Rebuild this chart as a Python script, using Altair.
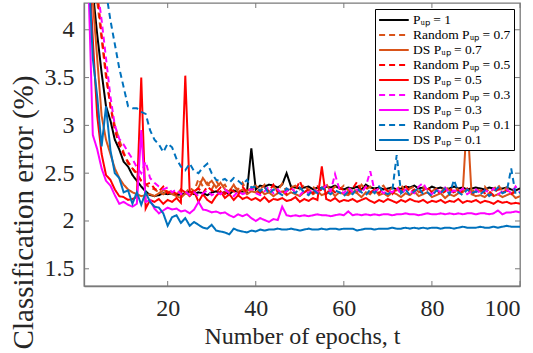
import altair as alt
import pandas as pd

epochs = list(range(1, 101))

series_names = [
    "Pᵤₚ = 1",
    "Random Pᵤₚ = 0.7",
    "DS Pᵤₚ = 0.7",
    "Random Pᵤₚ = 0.5",
    "DS Pᵤₚ = 0.5",
    "Random Pᵤₚ = 0.3",
    "DS Pᵤₚ = 0.3",
    "Random Pᵤₚ = 0.1",
    "DS Pᵤₚ = 0.1",
]
series_colors = ["#000000", "#D95319", "#D95319", "#FF0000", "#FF0000",
                 "#FF00FF", "#FF00FF", "#0072BD", "#0072BD"]
series_dashes = [[1, 0], [6, 4], [1, 0], [6, 4], [1, 0], [6, 4], [1, 0], [6, 4], [1, 0]]

p_up_1 = [
    6.0, 5.0, 4.4, 3.95, 3.55, 3.2, 3.05, 2.85, 2.75, 2.62,
    2.57, 2.48, 2.42, 2.36, 2.31, 2.27, 2.26, 2.27, 2.29, 2.28,
    2.29, 2.27, 2.28, 2.29, 2.31, 2.28, 2.30, 2.29, 2.27, 2.30,
    2.31, 2.29, 2.30, 2.28, 2.32, 2.30, 2.31, 2.30, 2.76, 2.33,
    2.37, 2.36, 2.38, 2.37, 2.35, 2.38, 2.50, 2.36, 2.35, 2.34,
    2.35, 2.36, 2.33, 2.35, 2.34, 2.36, 2.35, 2.37, 2.34, 2.33,
    2.35, 2.34, 2.36, 2.33, 2.38, 2.35, 2.34, 2.35, 2.33, 2.34,
    2.35, 2.33, 2.34, 2.36, 2.35, 2.37, 2.34, 2.35, 2.33, 2.36,
    2.34, 2.35, 2.33, 2.34, 2.36, 2.34, 2.35, 2.33, 2.34, 2.35,
    2.34, 2.33, 2.35, 2.34, 2.33, 2.34, 2.35, 2.33, 2.32, 2.34,
]
random_07 = [
    7.0, 5.8, 4.9, 4.3, 3.9, 3.5, 3.2, 3.0, 2.85, 2.72,
    2.60, 2.55, 2.48, 2.42, 2.38, 2.35, 2.33, 2.30, 2.28, 2.32,
    2.30, 2.27, 2.33, 2.29, 2.35, 2.31, 2.44, 2.36, 2.40, 2.33,
    2.42, 2.35, 2.38, 2.30, 2.36, 2.33, 2.40, 2.31, 2.35, 2.37,
    2.33, 2.38, 2.30, 2.36, 2.32, 2.39, 2.31, 2.35, 2.37, 2.33,
    2.38, 2.32, 2.36, 2.30, 2.34, 2.39, 2.31, 2.36, 2.33, 2.37,
    2.32, 2.35, 2.30, 2.38, 2.33, 2.36, 2.31, 2.34, 2.37, 2.30,
    2.35, 2.32, 2.38, 2.31, 2.34, 2.36, 2.30, 2.35, 2.33, 2.31,
    2.34, 2.30, 2.36, 2.32, 2.29, 2.35, 2.31, 2.33, 2.30, 2.34,
    2.31, 2.36, 2.30, 2.33, 2.38, 2.31, 2.35, 2.29, 2.32, 2.30,
]
ds_07 = [
    6.5, 5.2, 4.3, 3.7, 3.1, 2.85, 2.70, 2.55, 2.45, 2.38,
    2.33, 2.30, 2.28, 2.26, 2.27, 2.28, 2.26, 2.29, 2.32, 2.31,
    2.28, 2.26, 2.24, 2.29, 2.27, 2.30, 2.35, 2.45, 2.38, 2.42,
    2.35, 2.40, 2.33, 2.31, 2.38, 2.30, 2.33, 2.28, 2.31, 2.30,
    2.33, 2.28, 2.30, 2.26, 2.29, 2.31, 2.27, 2.30, 2.28, 2.26,
    2.30, 2.33, 2.28, 2.31, 2.27, 2.29, 2.32, 2.26, 2.30, 2.28,
    2.27, 2.31, 2.29, 2.25, 2.30, 2.28, 2.33, 2.27, 2.29, 2.26,
    2.30, 2.28, 2.25, 2.29, 2.27, 2.31, 2.26, 2.28, 2.30, 2.25,
    2.27, 2.29, 2.24, 2.28, 2.26, 2.29, 2.30, 3.10, 2.28, 2.26,
    2.27, 2.25, 2.29, 2.26, 2.28, 2.25, 2.27, 2.29, 2.24, 2.26,
]
random_05 = [
    7.2, 6.0, 5.0, 4.4, 3.95, 3.55, 3.2, 2.95, 2.80, 2.70,
    2.62, 2.55, 2.50, 2.42, 2.38, 2.40, 2.34, 2.31, 2.36, 2.29,
    2.32, 2.28, 2.33, 2.30, 2.26, 2.31, 2.34, 2.29, 2.36, 2.32,
    2.30, 2.35, 2.28, 2.33, 2.31, 2.27, 2.36, 2.30, 2.34, 2.32,
    2.29, 2.35, 2.31, 2.38, 2.30, 2.33, 2.28, 2.34, 2.31, 2.42,
    2.30, 2.33, 2.29, 2.36, 2.31, 2.28, 2.34, 2.30, 2.35, 2.32,
    2.29, 2.34, 2.41, 2.31, 2.36, 2.30, 2.33, 2.29, 2.35, 2.31,
    2.28, 2.34, 2.31, 2.37, 2.30, 2.33, 2.29, 2.32, 2.35, 2.30,
    2.33, 2.28, 2.31, 2.35, 2.29, 2.32, 2.30, 2.34, 2.28, 2.31,
    2.33, 2.29, 2.31, 2.27, 2.34, 2.30, 2.32, 2.28, 2.31, 2.29,
]
ds_05 = [
    6.2, 4.8, 3.9, 3.1, 2.70, 2.48, 2.43, 2.33, 2.26, 2.25,
    2.22, 2.23, 2.25, 3.50, 2.13, 2.22, 2.20, 2.23, 2.18, 2.22,
    2.20, 2.24, 2.19, 3.52, 2.30, 2.31, 2.20, 2.28, 2.22, 2.19,
    2.26, 2.31, 2.24, 2.28, 2.22, 2.27, 2.23, 2.25, 2.22, 2.24,
    2.21, 2.25, 2.20, 2.23, 2.22, 2.24, 2.21, 2.22, 2.25, 2.20,
    2.23, 2.21, 2.24, 2.22, 2.57, 2.23, 2.21, 2.24, 2.20, 2.22,
    2.21, 2.23, 2.20, 2.22, 2.24, 2.21, 2.19, 2.22, 2.20, 2.23,
    2.21, 2.19, 2.22, 2.20, 2.23, 2.21, 2.20, 2.22, 2.19, 2.21,
    2.20, 2.22, 2.19, 2.21, 2.20, 2.23, 2.19, 2.21, 2.20, 2.22,
    2.19, 2.21, 2.20, 2.18, 2.21, 2.19, 2.20, 2.18, 2.19, 2.18,
]
random_03 = [
    8.0, 6.5, 5.2, 4.45, 4.1, 3.7, 3.3, 3.0, 2.86, 2.80,
    2.72, 2.65, 2.56, 2.50, 2.62, 2.45, 2.40, 2.36, 2.33, 2.35,
    2.30, 2.33, 2.28, 2.31, 2.27, 2.30, 2.26, 2.29, 2.32, 2.27,
    2.30, 2.28, 2.33, 2.29, 2.26, 2.31, 2.28, 2.30, 2.34, 2.29,
    2.27, 2.31, 2.36, 2.29, 2.33, 2.28, 2.31, 2.35, 2.30, 2.27,
    2.32, 2.29, 2.34, 2.30, 2.33, 2.37, 2.31, 2.49, 2.33, 2.29,
    2.35, 2.30, 2.33, 2.29, 2.36, 2.52, 2.31, 2.34, 2.29, 2.32,
    2.30, 2.35, 2.28, 2.33, 2.31, 2.29, 2.36, 2.40, 2.31, 2.28,
    2.33, 2.30, 2.35, 2.29, 2.32, 2.30, 2.34, 2.28, 2.31, 2.33,
    2.29, 2.32, 2.30, 2.34, 2.28, 2.31, 2.33, 2.29, 2.36, 2.30,
]
ds_03 = [
    5.5, 4.5, 2.90, 2.75, 2.55, 2.42, 2.37, 2.27, 2.18, 2.20,
    2.17, 2.15, 2.18, 2.95, 2.20, 2.22, 2.13, 2.08, 2.11, 2.14,
    2.12, 2.13, 2.10, 2.11, 2.08, 2.12, 2.20, 2.12, 2.11, 2.09,
    2.10, 2.08, 2.09, 2.06, 2.04, 2.07, 2.05, 2.07, 2.03, 2.00,
    2.03, 2.01, 1.99, 2.02, 2.01, 2.15, 2.06, 2.05, 2.06, 2.05,
    2.06, 2.05, 2.06, 2.07, 2.06, 2.06, 2.05, 2.06, 2.07, 2.06,
    2.10, 2.06, 2.07, 2.06, 2.07, 2.06, 2.07, 2.06, 2.07, 2.07,
    2.06, 2.07, 2.07, 2.08, 2.07, 2.07, 2.06, 2.07, 2.08, 2.07,
    2.07, 2.08, 2.07, 2.08, 2.07, 2.08, 2.07, 2.08, 2.08, 2.07,
    2.08, 2.08, 2.07, 2.08, 2.11, 2.07, 2.09, 2.09, 2.10, 2.09,
]
random_01 = [
    9.5, 7.5, 6.0, 5.1, 4.7, 4.4, 4.1, 3.85, 3.60, 3.40,
    3.20, 3.18, 3.18, 3.14, 3.12, 2.95, 2.85, 2.80, 2.72, 2.81,
    2.77, 2.65, 2.57, 2.53, 2.60, 2.52, 2.50, 2.56, 2.60, 2.50,
    2.43, 2.42, 2.44, 2.40, 2.45, 2.42, 2.38, 2.43, 2.35, 2.36,
    2.31, 2.36, 2.28, 2.33, 2.30, 2.27, 2.34, 2.31, 2.29, 2.35,
    2.30, 2.27, 2.33, 2.29, 2.35, 2.31, 2.28, 2.32, 2.30, 2.26,
    2.31, 2.28, 2.34, 2.30, 2.27, 2.33, 2.29, 2.36, 2.30, 2.28,
    2.31, 2.69, 2.29, 2.33, 2.27, 2.31, 2.35, 2.28, 2.30, 2.26,
    2.32, 2.29, 2.34, 2.28, 2.43, 2.30, 2.27, 2.33, 2.29, 2.31,
    2.28, 2.32, 2.26, 2.30, 2.35, 2.29, 2.31, 2.55, 2.28, 2.30,
]
ds_01 = [
    6.0, 4.7, 3.7, 3.3, 2.78, 3.20, 2.74, 2.50, 2.45, 2.30,
    2.32, 2.18, 2.30, 2.17, 2.30, 2.20, 2.15, 2.14, 2.08, 1.95,
    2.04, 2.06, 1.98, 2.03, 1.95, 1.99, 1.96, 1.93, 1.92, 1.96,
    1.90, 1.89, 1.88, 1.86, 1.92, 1.90, 1.89, 1.88, 1.90, 1.89,
    1.91, 1.90, 1.91, 1.91, 1.92, 1.91, 1.91, 1.92, 1.91, 1.90,
    1.91, 1.92, 1.91, 1.91, 1.92, 1.91, 1.92, 1.92, 1.91, 1.92,
    1.92, 1.92, 1.90, 1.91, 1.92, 1.92, 1.91, 1.92, 1.92, 1.92,
    1.93, 1.92, 1.92, 1.93, 1.92, 1.93, 1.92, 1.93, 1.92, 1.93,
    1.93, 1.92, 1.93, 1.93, 1.92, 1.93, 1.94, 1.93, 1.93, 1.93,
    1.94, 1.93, 1.93, 1.94, 1.93, 1.94, 1.95, 1.94, 1.94, 1.94,
]

all_series = [p_up_1, random_07, ds_07, random_05, ds_05, random_03, ds_03, random_01, ds_01]

x_ticks = [20, 40, 60, 80, 100]
y_ticks = [1.5, 2, 2.5, 3, 3.5, 4]

rows = []
for k, (name, vals) in enumerate(zip(series_names, all_series)):
    for e, v in zip(epochs, vals):
        rows.append({"epoch": e, "err": v, "series": name, "k": k})
df = pd.DataFrame(rows)

W, H = 436, 283
FONT = "Liberation Serif"
AX = "#7a7a7a"
TXT = "#262626"

xs = alt.Scale(domain=[1, 100], nice=False, zero=False)
ys = alt.Scale(domain=[1.32, 4.28], nice=False, zero=False)

x_axis = alt.Axis(values=x_ticks, format="~r", title="Number of epochs, t", grid=False,
                  ticks=False, domainColor=AX, domainWidth=1.3,
                  labelFont=FONT, labelFontSize=24, labelColor=TXT, labelPadding=10,
                  titleFont=FONT, titleFontSize=24, titleColor=TXT,
                  titleFontWeight="normal", titlePadding=4)
y_axis = alt.Axis(values=y_ticks, format="~r", title="Classification error (%)", grid=False,
                  ticks=False, domainColor=AX, domainWidth=1.3,
                  labelFont=FONT, labelFontSize=24, labelColor=TXT, labelPadding=10,
                  titleFont=FONT, titleFontSize=29, titleColor=TXT,
                  titleFontWeight="normal", titleAngle=270, titleAlign="center",
                  titleBaseline="middle", titleX=-61, titleY=209)

lines = alt.Chart(df).mark_line(clip=True, strokeWidth=2).encode(
    x=alt.X("epoch:Q", scale=xs, axis=x_axis),
    y=alt.Y("err:Q", scale=ys, axis=y_axis),
    color=alt.Color("series:N", scale=alt.Scale(domain=series_names, range=series_colors),
                    legend=alt.Legend(title=None)),
    strokeDash=alt.StrokeDash("series:N", scale=alt.Scale(domain=series_names, range=series_dashes),
                              legend=alt.Legend(title=None)),
    detail="k:O",
)

xt = pd.DataFrame({"t": x_ticks})
yt = pd.DataFrame({"t": y_ticks})

x_bot = alt.Chart(xt).mark_rule(color=AX, strokeWidth=1).encode(
    x=alt.X("t:Q", scale=xs), y=alt.value(H), y2=alt.value(H - 5))
x_top = alt.Chart(xt).mark_rule(color=AX, strokeWidth=1).encode(
    x=alt.X("t:Q", scale=xs), y=alt.value(0), y2=alt.value(5))
y_left = alt.Chart(yt).mark_rule(color=AX, strokeWidth=1).encode(
    y=alt.Y("t:Q", scale=ys), x=alt.value(0), x2=alt.value(5))
y_right = alt.Chart(yt).mark_rule(color=AX, strokeWidth=1).encode(
    y=alt.Y("t:Q", scale=ys), x=alt.value(W - 5), x2=alt.value(W))

chart = alt.layer(lines, x_bot, x_top, y_left, y_right).properties(
    width=W, height=H,
    autosize=alt.AutoSizeParams(type="none"),
    padding={"left": 84, "top": 3, "right": 13, "bottom": 67},
).configure_view(
    stroke=AX, strokeWidth=1.3
).configure_axis(
    labelFont=FONT, titleFont=FONT,
).configure_legend(
    orient="top-right", offset=6,
    strokeColor="#000000", fillColor="#ffffff", padding=3,
    symbolType="M-1,0H3.3", symbolSize=190, symbolStrokeWidth=2,
    labelFont=FONT, labelFontSize=13.5, labelColor="#000000", labelOffset=19,
    rowPadding=0, cornerRadius=0,
)

chart.save("out.html", embed_options={"renderer": "svg", "actions": False})
